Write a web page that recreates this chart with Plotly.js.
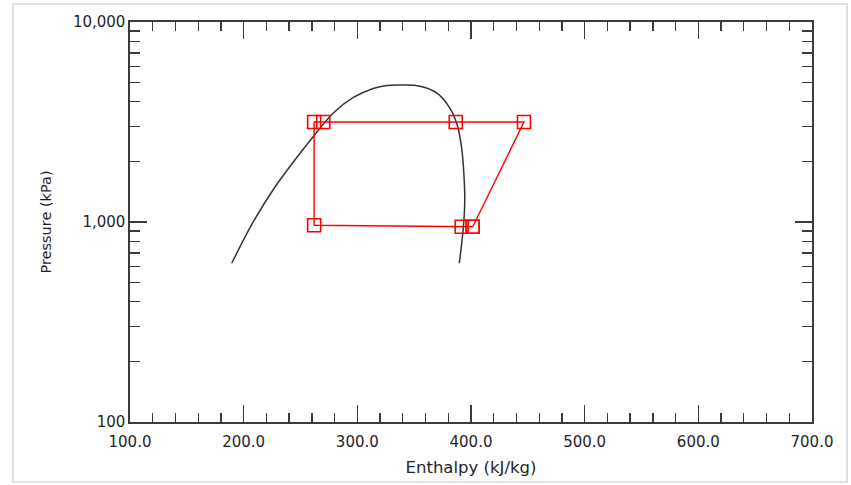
<!DOCTYPE html>
<html>
<head>
<meta charset="utf-8">
<script src="https://cdn.plot.ly/plotly-3.0.1.min.js"></script>
<style>
  html, body { margin: 0; padding: 0; background: #fff; }
  #chart { width: 851px; height: 485px; }
</style>
</head>
<body>
<div id="chart"></div>
<script>
// Saturation dome (kJ/kg, kPa)
const domeEnthalpy = [189.5, 208.5, 226.1, 243.7, 261.3, 278.9, 296.5, 314.0, 325.8, 340.2,
                      355.1, 369.8, 381.5, 387.9, 391.8, 393.8, 394.5, 393.2, 389.7];
const domePressure = [622, 1003, 1454, 1995, 2677, 3508, 4195, 4650, 4812, 4842,
                      4775, 4420, 3702, 3055, 2336, 1718, 1264, 930, 622];

// Refrigeration cycle state points, closed loop
const cycleEnthalpy = [401.5, 446.6, 386.6, 270.0, 262.0, 262.0, 391.8, 401.5];
const cyclePressure = [947, 3162, 3162, 3162, 3162, 963, 947, 947];

// Axis ticks
const xTickVals = [100, 200, 300, 400, 500, 600, 700];
const xTickText = ["100.0", "200.0", "300.0", "400.0", "500.0", "600.0", "700.0"];
const xMinorVals = [120,140,160,180, 220,240,260,280, 320,340,360,380, 420,440,460,480,
                    520,540,560,580, 620,640,660,680];
const yTickVals = [100, 1000, 10000];
const yTickText = ["100", "1,000", "10,000"];
const yMinorVals = [200,300,400,500,600,700,800,900, 2000,3000,4000,5000,6000,7000,8000,9000];

const FONT = "DejaVu Sans, Verdana, sans-serif";
const AXIS_COLOR = "#3a3a3a";
const LABEL_COLOR = "#1e1e2a";

const traces = [
  {
    x: domeEnthalpy, y: domePressure,
    type: "scatter", mode: "lines",
    line: { color: "#333333", width: 1.5, shape: "spline", smoothing: 1.0 },
    hoverinfo: "skip", showlegend: false
  },
  {
    x: cycleEnthalpy, y: cyclePressure,
    type: "scatter", mode: "lines+markers",
    line: { color: "#ff0000", width: 1.4 },
    marker: { symbol: "square-open", size: 13, color: "#ff0000", line: { width: 1.6, color: "#ff0000" } },
    showlegend: false
  }
];

const commonAxis = {
  showline: true, linecolor: AXIS_COLOR, linewidth: 1.6,
  mirror: "ticks", ticks: "inside", ticklen: 17, tickwidth: 1.5, tickcolor: AXIS_COLOR,
  showgrid: false, zeroline: false,
  tickfont: { family: FONT, size: 15, color: LABEL_COLOR },
  tickmode: "array"
};

const layout = {
  width: 851, height: 485,
  margin: { l: 130, r: 39, t: 22, b: 63 },
  paper_bgcolor: "#ffffff", plot_bgcolor: "#ffffff",
  showlegend: false,
  xaxis: Object.assign({}, commonAxis, {
    type: "linear", range: [100, 700],
    tickvals: xTickVals, ticktext: xTickText,
    ticklabelstandoff: 5,
    minor: { tickmode: "array", tickvals: xMinorVals, ticks: "inside", ticklen: 9, tickwidth: 1.4, tickcolor: AXIS_COLOR, showgrid: false },
    title: { text: "Enthalpy (kJ/kg)", font: { family: FONT, size: 16.5, color: LABEL_COLOR }, standoff: 12 }
  }),
  yaxis: Object.assign({}, commonAxis, {
    type: "log", range: [2, 4],
    tickvals: yTickVals, ticktext: yTickText,
    minor: { tickmode: "array", tickvals: yMinorVals, ticks: "inside", ticklen: 10, tickwidth: 1.4, tickcolor: AXIS_COLOR, showgrid: false },
    title: { text: "Pressure (kPa)", font: { family: FONT, size: 14.5, color: LABEL_COLOR }, standoff: 18 }
  }),
  shapes: [
    // light frame around the whole chart
    { type: "rect", xref: "paper", yref: "paper",
      x0: (13 - 130) / 682, x1: (847 - 130) / 682,
      y0: (422 - 482) / 400, y1: (422 - 4) / 400,
      line: { color: "#d6d6d6", width: 1.5 }, fillcolor: "rgba(0,0,0,0)", layer: "below" }
  ]
};

Plotly.newPlot("chart", traces, layout, { displayModeBar: false, staticPlot: true });
</script>
</body>
</html>
